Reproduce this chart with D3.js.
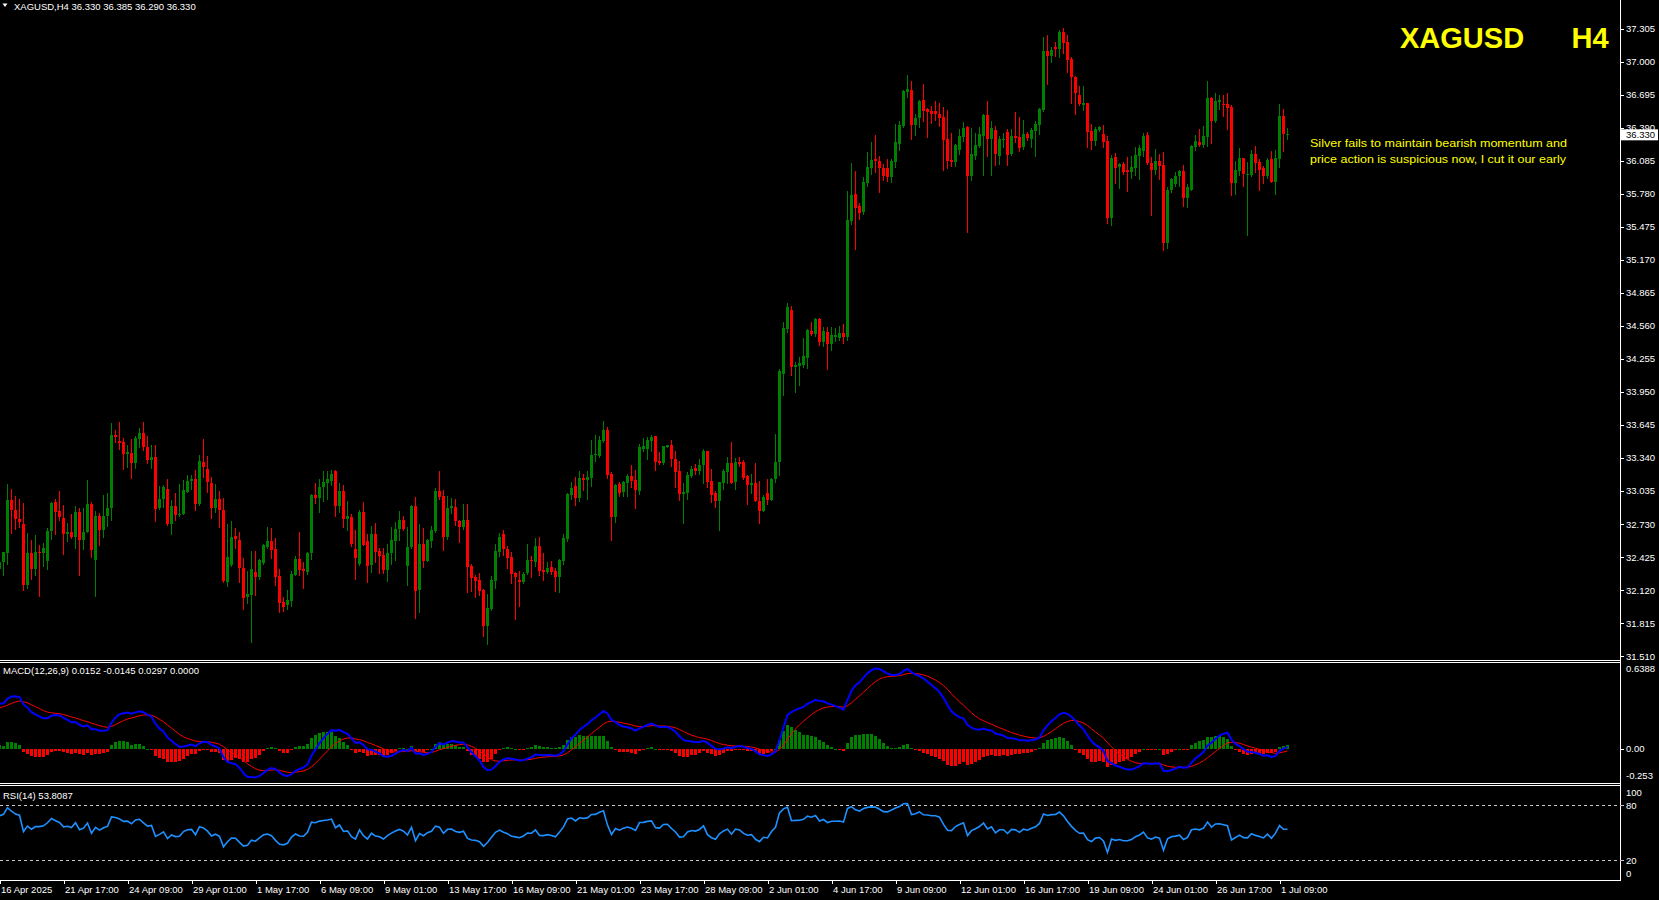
<!DOCTYPE html>
<html><head><meta charset="utf-8">
<script src="https://cdn.jsdelivr.net/npm/d3@7"></script>
<style>html,body{margin:0;padding:0;background:#000;overflow:hidden}</style>
</head><body>
<svg id="c" width="1659" height="900" style="display:block;background:#000"></svg>
<script>
// ---------------- DATA (XAGUSD H4) ----------------
const symbol = "XAGUSD", timeframe = "H4";
const opens = [32.31,32.383,32.466,32.953,32.861,32.778,32.731,32.170,32.460,32.318,32.472,32.466,32.392,32.667,32.935,32.848,32.787,32.633,32.657,32.614,32.842,32.586,32.654,32.916,32.401,32.805,32.670,32.799,32.873,33.555,
33.499,33.490,33.373,33.388,33.289,33.515,33.573,33.444,33.317,33.351,32.873,32.960,33.055,32.734,32.898,32.811,32.818,33.021,33.126,33.141,32.919,33.305,33.240,33.111,32.876,32.962,32.860,32.194,32.348,32.620,
32.583,32.324,32.055,32.077,32.284,32.240,32.373,32.521,32.574,32.500,32.250,32.009,31.984,32.018,32.262,32.407,32.314,32.287,32.462,32.999,32.974,33.067,33.113,33.129,33.221,32.900,33.036,32.777,32.796,32.500,
32.361,32.842,32.574,32.352,32.638,32.484,32.444,32.305,32.459,32.577,32.682,32.768,32.345,32.518,32.897,32.123,32.543,32.392,32.574,32.667,33.037,32.990,32.605,32.879,32.889,32.759,32.704,32.768,32.343,32.241,
32.213,32.121,31.788,31.945,32.204,32.472,32.639,32.500,32.426,32.278,32.213,32.195,32.278,32.398,32.380,32.528,32.306,32.287,32.333,32.296,32.241,32.389,32.593,33.000,33.083,32.972,33.157,33.138,33.157,33.370,
33.361,33.499,33.601,33.194,32.796,33.101,33.027,33.111,33.175,33.138,33.037,33.425,33.425,33.492,33.539,33.313,33.289,33.443,33.462,33.332,33.221,33.009,33.012,33.175,33.249,33.221,33.271,33.406,33.129,33.012,
32.944,33.110,33.212,33.289,33.122,33.307,33.307,33.169,33.092,33.110,32.944,32.851,33.012,32.953,33.150,33.298,34.112,34.535,34.711,34.177,34.193,34.202,34.267,34.517,34.489,34.627,34.415,34.507,34.396,34.461,
34.452,34.498,34.461,35.525,35.775,35.664,35.611,35.876,36.015,36.098,36.079,36.021,36.015,35.932,36.070,36.237,36.403,36.718,36.736,36.412,36.477,36.644,36.561,36.542,36.542,36.514,36.487,36.283,36.089,36.070,
36.181,36.302,36.394,35.941,36.126,36.218,36.311,36.505,36.283,36.372,36.126,36.280,36.348,36.144,36.311,36.302,36.209,36.329,36.283,36.357,36.413,36.551,37.097,37.051,37.134,37.116,37.273,37.180,37.023,36.857,
36.690,36.598,36.616,36.357,36.264,36.366,36.329,36.264,35.561,36.116,36.024,36.052,35.996,35.978,36.015,36.126,36.172,36.320,36.061,36.005,36.079,36.042,35.330,35.811,35.867,35.941,35.987,35.746,35.820,36.209,
36.255,36.227,36.302,36.662,36.449,36.625,36.610,36.607,36.579,35.876,35.987,36.107,35.950,35.950,36.144,36.070,36.015,35.941,36.098,35.894,36.098,36.496,36.330];
const highs = [32.45,32.475,33.101,33.055,32.990,32.963,32.926,32.648,32.583,32.626,32.531,32.552,32.697,32.935,32.956,33.037,32.907,32.741,32.824,32.898,32.876,32.873,33.132,32.935,32.852,32.830,33.000,33.018,33.666,33.600,
33.675,33.520,33.456,33.518,33.545,33.613,33.675,33.545,33.462,33.456,33.083,33.089,33.141,32.953,33.018,33.095,33.138,33.185,33.185,33.231,33.363,33.518,33.360,33.166,33.101,33.030,32.968,32.731,32.759,32.694,
32.657,32.416,32.296,32.481,32.481,32.407,32.546,32.703,32.694,32.601,32.314,32.052,32.117,32.296,32.435,32.657,32.379,32.472,33.008,33.110,33.144,33.221,33.221,33.227,33.230,33.110,33.092,32.944,32.826,32.675,
32.860,32.934,32.635,32.712,32.740,32.512,32.509,32.546,32.703,32.752,32.851,32.799,32.703,32.907,32.981,32.731,32.694,32.595,32.712,33.061,33.222,33.046,32.987,32.972,32.963,32.765,32.916,32.916,32.361,32.262,
32.278,32.130,32.084,32.250,32.546,32.651,32.676,32.528,32.472,32.287,32.296,32.287,32.546,32.435,32.602,32.611,32.463,32.380,32.389,32.324,32.407,32.639,33.018,33.120,33.166,33.222,33.194,33.222,33.508,33.555,
33.545,33.684,33.629,33.212,33.101,33.120,33.129,33.194,33.277,33.231,33.471,33.527,33.533,33.554,33.545,33.394,33.452,33.462,33.508,33.403,33.314,33.113,33.206,33.267,33.286,33.332,33.425,33.406,33.240,33.039,
33.119,33.240,33.351,33.489,33.341,33.351,33.323,33.184,33.193,33.295,33.129,33.002,33.141,33.159,33.563,34.165,34.600,34.775,34.748,34.230,34.276,34.452,34.535,34.600,34.637,34.637,34.554,34.554,34.554,34.544,
34.563,34.581,35.802,36.061,35.987,35.700,35.932,36.163,36.255,36.320,36.126,36.052,36.098,36.098,36.422,36.450,36.736,36.875,36.820,36.514,36.644,36.792,36.570,36.588,36.635,36.616,36.579,36.551,36.339,36.237,
36.376,36.440,36.403,36.385,36.339,36.394,36.514,36.635,36.450,36.403,36.311,36.339,36.376,36.376,36.533,36.487,36.459,36.348,36.385,36.450,36.570,37.227,37.245,37.134,37.180,37.291,37.310,37.245,37.042,36.870,
36.773,36.773,36.616,36.422,36.394,36.403,36.413,36.311,36.135,36.153,36.061,36.070,36.116,36.126,36.209,36.227,36.338,36.348,36.116,36.190,36.144,36.163,35.839,35.922,35.978,36.005,36.042,35.867,36.228,36.320,
36.375,36.403,36.820,36.671,36.708,36.690,36.690,36.708,36.597,36.079,36.200,36.107,36.070,36.181,36.218,36.098,36.033,36.107,36.172,36.181,36.607,36.561,36.385];
const lows = [32.26,32.259,32.358,32.651,32.682,32.700,32.118,32.136,32.225,32.259,32.068,32.337,32.318,32.589,32.636,32.768,32.457,32.574,32.599,32.512,32.262,32.497,32.654,32.429,32.068,32.534,32.614,32.710,32.771,33.490,
33.422,33.234,33.256,33.151,33.243,33.437,33.410,33.289,33.243,32.753,32.867,32.885,32.722,32.633,32.762,32.808,32.818,33.021,33.055,32.855,32.907,33.160,33.024,32.781,32.845,32.706,32.194,32.160,32.342,32.512,
32.197,31.944,32.003,31.642,32.074,32.222,32.361,32.509,32.419,32.170,31.917,31.926,31.947,31.975,32.259,32.262,32.142,32.271,32.410,32.928,32.845,32.944,32.965,33.092,32.808,32.836,32.703,32.675,32.527,32.222,
32.355,32.533,32.194,32.287,32.379,32.280,32.280,32.206,32.361,32.395,32.583,32.672,32.170,32.512,31.864,31.917,32.336,32.386,32.521,32.657,32.960,32.494,32.589,32.827,32.716,32.559,32.685,32.102,32.111,32.056,
32.071,31.695,31.621,31.939,32.139,32.435,32.444,32.324,32.185,31.852,31.973,32.185,32.269,32.241,32.343,32.259,32.213,32.278,32.269,32.111,32.102,32.361,32.577,32.963,32.907,32.944,33.046,32.963,33.083,33.314,
33.351,33.490,33.157,32.583,32.750,32.990,32.990,32.990,33.074,32.879,33.009,33.400,33.332,33.406,33.224,33.283,33.280,33.437,33.270,33.076,32.947,32.743,32.965,33.166,33.193,33.193,33.113,33.067,32.937,32.891,
32.675,33.049,33.104,33.104,33.049,33.261,33.141,32.919,33.012,32.938,32.743,32.851,32.919,32.947,33.122,33.178,33.918,34.501,34.103,33.946,34.011,34.177,34.168,34.476,34.464,34.387,34.378,34.165,34.341,34.424,
34.433,34.405,34.433,35.500,35.275,35.550,35.592,35.851,35.968,35.978,35.793,35.904,35.898,35.894,36.024,36.181,36.394,36.672,36.283,36.320,36.394,36.450,36.302,36.431,36.459,36.403,35.996,36.015,36.033,36.033,
36.144,36.265,35.429,35.904,36.098,36.209,35.950,36.126,35.950,36.042,36.052,36.209,36.042,36.135,36.255,36.172,36.191,36.274,36.209,36.126,36.329,36.542,36.792,36.995,37.051,37.042,37.079,36.903,36.616,36.514,
36.598,36.551,36.209,36.190,36.227,36.357,36.209,35.515,35.496,35.876,35.830,35.959,35.802,35.922,35.950,35.913,36.126,36.052,35.580,35.959,35.913,35.265,35.284,35.793,35.857,35.857,35.672,35.654,35.811,36.181,
36.218,36.209,36.218,36.246,36.440,36.560,36.496,36.375,35.774,35.783,35.950,35.857,35.404,35.941,35.978,35.811,35.876,35.922,35.894,35.783,36.024,36.172,36.290];
const closes = [32.38,32.469,32.953,32.855,32.774,32.744,32.170,32.460,32.318,32.469,32.466,32.506,32.667,32.926,32.845,32.790,32.633,32.657,32.614,32.842,32.586,32.657,32.916,32.485,32.805,32.670,32.805,32.879,33.555,33.530,
33.475,33.373,33.391,33.289,33.524,33.573,33.441,33.317,33.351,32.867,32.960,33.074,32.728,32.898,32.811,32.824,33.040,33.129,33.141,32.919,33.314,33.256,33.114,32.882,32.962,32.860,32.200,32.425,32.610,32.592,
32.327,32.049,32.083,32.314,32.244,32.398,32.540,32.574,32.493,32.244,32.003,31.966,32.024,32.268,32.407,32.305,32.296,32.459,32.999,32.974,33.076,33.119,33.141,33.196,32.900,33.036,32.777,32.802,32.546,32.419,
32.842,32.540,32.345,32.638,32.475,32.438,32.305,32.462,32.583,32.685,32.768,32.688,32.518,32.897,32.114,32.543,32.392,32.583,32.676,33.037,32.981,32.605,32.879,32.898,32.753,32.704,32.768,32.333,32.232,32.204,
32.111,31.788,31.954,32.213,32.481,32.611,32.500,32.417,32.272,32.241,32.195,32.269,32.398,32.389,32.528,32.296,32.287,32.324,32.287,32.241,32.398,32.602,33.009,33.064,32.972,33.157,33.138,33.166,33.370,33.373,
33.508,33.601,33.185,32.796,33.092,33.018,33.120,33.175,33.129,33.046,33.444,33.453,33.508,33.533,33.307,33.292,33.452,33.462,33.326,33.206,33.009,33.021,33.184,33.240,33.221,33.277,33.406,33.122,33.002,32.938,
33.119,33.221,33.289,33.113,33.307,33.280,33.159,33.092,33.113,32.944,32.851,32.975,32.953,33.150,33.304,34.140,34.544,34.738,34.177,34.202,34.214,34.285,34.526,34.489,34.627,34.415,34.517,34.396,34.480,34.480,
34.498,34.461,35.543,35.765,35.645,35.600,35.885,36.024,36.089,36.079,36.015,35.941,35.932,36.079,36.255,36.412,36.727,36.746,36.412,36.477,36.635,36.542,36.533,36.514,36.514,36.477,36.274,36.079,36.070,36.228,
36.311,36.385,35.941,36.144,36.228,36.329,36.505,36.283,36.385,36.144,36.283,36.283,36.135,36.311,36.292,36.200,36.329,36.292,36.366,36.422,36.561,37.097,37.051,37.107,37.116,37.273,37.171,37.014,36.857,36.715,
36.607,36.616,36.348,36.264,36.375,36.394,36.255,35.561,36.107,36.015,36.052,35.978,35.978,36.024,36.135,36.200,36.311,36.061,36.005,36.079,36.033,35.330,35.811,35.913,35.941,35.987,35.746,35.839,36.218,36.264,
36.227,36.311,36.662,36.449,36.634,36.644,36.607,36.570,35.876,35.996,36.107,35.968,35.959,36.144,36.061,36.005,35.941,36.089,35.894,36.107,36.496,36.330,36.330];

const priceTicks = [37.305,37.000,36.695,36.390,36.085,35.780,35.475,35.170,34.865,34.560,34.255,33.950,33.645,33.340,33.035,32.730,32.425,32.120,31.815,31.510];
const timeLabels = ["16 Apr 2025","21 Apr 17:00","24 Apr 09:00","29 Apr 01:00","1 May 17:00","6 May 09:00","9 May 01:00","13 May 17:00","16 May 09:00","21 May 01:00","23 May 17:00","28 May 09:00","2 Jun 01:00","4 Jun 17:00","9 Jun 09:00","12 Jun 01:00","16 Jun 17:00","19 Jun 09:00","24 Jun 01:00","26 Jun 17:00","1 Jul 09:00"];
const macdTicks = [0.6388, 0.00, -0.253];
const macdTickLabels = ["0.6388","0.00","-0.253"];
const rsiTicks = [100, 80, 20, 0];
const rsiLevels = [80, 20];
const lastPrice = 36.330;
const headerText = "XAGUSD,H4  36.330 36.385 36.290 36.330";
const macdText = "MACD(12,26,9) 0.0152 -0.0145 0.0297 0.0000";
const rsiText = "RSI(14) 53.8087";
const noteLines = ["Silver fails to maintain bearish momentum and","price action is suspicious now, I cut it our early"];
const macdPeriods = [12, 26, 9];
const rsiPeriod = 14;
// indicator state at the first visible bar
const macdSeed = [32.10, 31.76, 0.30];   // ema fast, ema slow, signal
const rsiSeed = [0.08, 0.037];           // avg gain, avg loss

// ---------------- INDICATORS ----------------
const kF = 2/(macdPeriods[0]+1), kS = 2/(macdPeriods[1]+1), kG = 2/(macdPeriods[2]+1);
let eF = macdSeed[0], eS = macdSeed[1], sg = macdSeed[2];
const macd = [], signal = [];
closes.forEach(c => { eF += kF*(c-eF); eS += kS*(c-eS); const m = eF-eS; sg += kG*(m-sg); macd.push(m); signal.push(sg); });
let ag = rsiSeed[0], al = rsiSeed[1];
const rsi = closes.map((c,i) => {
  if (i>0) { const d = c-closes[i-1]; ag = (ag*(rsiPeriod-1)+Math.max(d,0))/rsiPeriod; al = (al*(rsiPeriod-1)+Math.max(-d,0))/rsiPeriod; }
  return 100 - 100/(1+ag/al);
});

// ---------------- DRAW ----------------
const svg = d3.select('#c');
const FONT = "'Liberation Sans', Arial, sans-serif";
const GREEN = '#008000', RED = '#ff0000', FG = '#ffffff';
const axisX = 1620;
const x = d3.scaleLinear().domain([0, 320]).range([-0.5, 1279.5]);
const yP = d3.scaleLinear().domain([31.510, 37.305]).range([656, 28.8]);
const yM = d3.scaleLinear().domain([-0.253, 0.6388]).range([783, 663]);
const yR = d3.scaleLinear().domain([0, 100]).range([878.5, 787]);

const bars = closes.map((c,i)=>({i, o:opens[i], h:highs[i], l:lows[i], c}));
const col = d => d.c >= d.o ? GREEN : RED;

const gC = svg.append('g').attr('shape-rendering','crispEdges');
gC.selectAll('line').data(bars).join('line')
  .attr('x1', d=>x(d.i)).attr('x2', d=>x(d.i))
  .attr('y1', d=>Math.round(yP(d.h))).attr('y2', d=>Math.round(yP(d.l))+1)
  .attr('stroke', col).attr('stroke-width',1);
gC.selectAll('rect').data(bars).join('rect')
  .attr('x', d=>x(d.i)-1.5).attr('width',3)
  .attr('y', d=>Math.round(yP(Math.max(d.o,d.c))))
  .attr('height', d=>Math.max(1, Math.round(yP(Math.min(d.o,d.c))) - Math.round(yP(Math.max(d.o,d.c)))))
  .attr('fill', col);

// panel separators
const sep = svg.append('g').attr('shape-rendering','crispEdges').attr('stroke','#ffffff');
[660.5, 662.5, 783.5, 785.5].forEach(yy => sep.append('line').attr('x1',0).attr('x2',axisX).attr('y1',yy).attr('y2',yy));

// MACD histogram + lines
const gM = svg.append('g');
gM.append('g').attr('shape-rendering','crispEdges').selectAll('rect').data(bars).join('rect')
  .attr('x', d=>x(d.i)-1.5).attr('width',3)
  .attr('y', d=>Math.min(yM(0), yM(macd[d.i]-signal[d.i])))
  .attr('height', d=>Math.max(1, Math.abs(yM(macd[d.i]-signal[d.i]) - yM(0))))
  .attr('fill', d=> macd[d.i]-signal[d.i] > 0 ? GREEN : RED);
const lnM = d3.line().x((d,i)=>x(i)).y(d=>yM(d));
gM.append('path').attr('d', lnM(signal)).attr('fill','none').attr('stroke',RED).attr('stroke-width',1);
gM.append('path').attr('d', lnM(macd)).attr('fill','none').attr('stroke','#0000ff').attr('stroke-width',2);

// RSI
const gR = svg.append('g');
rsiLevels.forEach(v => gR.append('line').attr('x1',0).attr('x2',axisX).attr('y1',Math.round(yR(v))+0.5).attr('y2',Math.round(yR(v))+0.5)
  .attr('stroke','#c8c8c8').attr('stroke-dasharray','3,3').attr('shape-rendering','crispEdges'));
gR.append('path').attr('d', d3.line().x((d,i)=>x(i)).y(d=>yR(d))(rsi)).attr('fill','none').attr('stroke','#1e90ff').attr('stroke-width',1.6);

// price axis
const gA = svg.append('g').attr('transform',`translate(${axisX},0)`).attr('font-family',FONT).attr('font-size','9.5px');
gA.append('line').attr('x1',0.5).attr('x2',0.5).attr('y1',0).attr('y2',881).attr('stroke',FG).attr('shape-rendering','crispEdges');
const axP = d3.axisRight(yP).tickValues(priceTicks).tickSize(4).tickSizeOuter(0).tickFormat(d3.format('.3f'));
const gPA = gA.append('g').call(axP);
gPA.select('.domain').remove();
gPA.selectAll('line').attr('stroke',FG).attr('shape-rendering','crispEdges');
gPA.selectAll('text').attr('fill',FG).attr('x',6).style('font-family',FONT).style('font-size','9.5px');
// current price box (covers the lower half of the 36.390 label, as in the terminal)
gA.append('rect').attr('x',1).attr('y',yP(lastPrice)-5).attr('width',37).attr('height',11).attr('fill','#ffffff');
gA.append('text').attr('x',6).attr('y',yP(lastPrice)+0.5).attr('dy','0.35em').attr('fill','#000').text(lastPrice.toFixed(3));
// MACD axis
macdTicks.forEach((v,i) => {
  const yy = i===0 ? 669 : (i===2 ? 775.5 : yM(v));
  if (i===1) gA.append('line').attr('x1',0).attr('x2',4).attr('y1',Math.round(yM(v))+0.5).attr('y2',Math.round(yM(v))+0.5).attr('stroke',FG);
  gA.append('text').attr('x',6).attr('y',yy).attr('dy','0.35em').attr('fill',FG).text(macdTickLabels[i]);
});
// RSI axis
rsiTicks.forEach(v => {
  const yy = v===100 ? 792.5 : (v===0 ? 874 : yR(v));
  gA.append('text').attr('x',6).attr('y',yy).attr('dy','0.35em').attr('fill',FG).text(v);
  if (v===80 || v===20) gA.append('line').attr('x1',0).attr('x2',4).attr('y1',Math.round(yR(v))+0.5).attr('y2',Math.round(yR(v))+0.5).attr('stroke','#c8c8c8');
});

// time axis
const gT = svg.append('g').attr('transform','translate(0,880)');
const axT = d3.axisBottom(x).tickValues(d3.range(0, 321, 16)).tickFormat((d,i)=>timeLabels[i]).tickSize(4).tickSizeOuter(0);
gT.call(axT);
gT.select('.domain').remove();
gT.append('line').attr('x1',0).attr('x2',axisX+1).attr('y1',0.5).attr('y2',0.5).attr('stroke',FG).attr('shape-rendering','crispEdges');
gT.selectAll('.tick line').attr('stroke',FG).attr('shape-rendering','crispEdges');
gT.selectAll('.tick text').attr('fill',FG).attr('text-anchor','start').attr('x',1).attr('y',6)
  .style('font-family',FONT).style('font-size','9.5px');

// header + labels
const gH = svg.append('g').attr('font-family',FONT).attr('font-size','9.5px').attr('fill',FG);
gH.append('path').attr('d','M2.5,3.5 L7.5,3.5 L5,7 Z').attr('fill',FG);
gH.append('text').attr('x',14).attr('y',9.5).text(headerText);
gH.append('text').attr('x',3).attr('y',674).text(macdText);
gH.append('text').attr('x',3).attr('y',798.5).text(rsiText);

// title
const gTi = svg.append('g').attr('font-family',FONT).attr('font-weight','bold').attr('font-size','29px').attr('fill','#ffff00');
gTi.append('text').attr('x',1400).attr('y',48.3).text(symbol);
gTi.append('text').attr('x',1571.5).attr('y',48.3).text(timeframe);

// note
const gN = svg.append('g').attr('font-family',FONT).attr('font-size','11.6px').attr('fill','#ffff00');
noteLines.forEach((t,i) => gN.append('text').attr('x',1310).attr('y',[146.7,163.4][i]).attr('textLength',[257,256][i]).attr('lengthAdjust','spacingAndGlyphs').text(t));
</script>
</body></html>
